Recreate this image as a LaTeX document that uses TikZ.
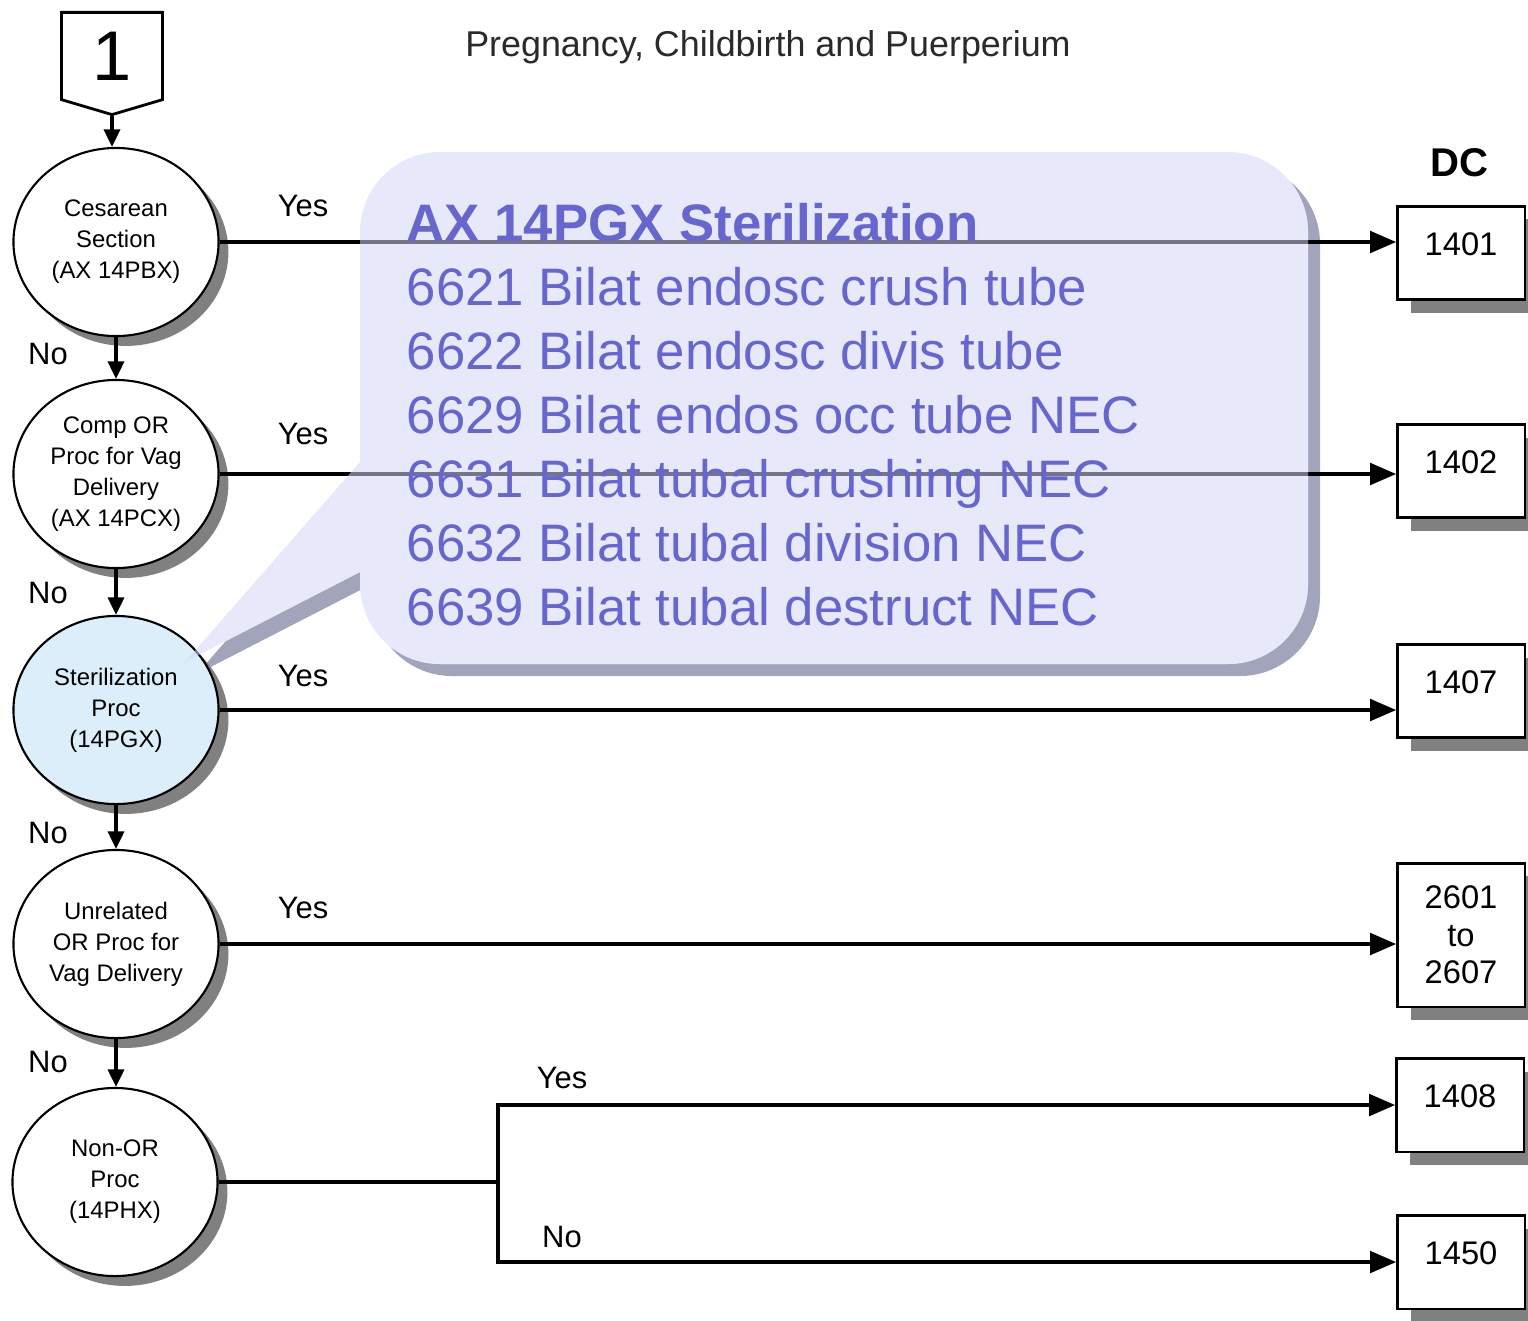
\documentclass[tikz,border=0pt]{standalone}
\usepackage{fontspec}
\setmainfont{Liberation Sans}
\usetikzlibrary{arrows.meta,positioning,shapes.geometric,shapes.symbols,shadows}
\definecolor{mdcshadow}{HTML}{808080}
\definecolor{mdcblue}{HTML}{DDEEFB}
\definecolor{mdcnote}{HTML}{6666CC}
\definecolor{mdcnotefill}{HTML}{D4D8F8}
\definecolor{mdcnoteedge}{HTML}{A2A4BC}
\definecolor{mdcgrey}{HTML}{2A2A2A}
\tikzset{
  decision/.style={ellipse, draw=black, line width=0.6pt, fill=white, minimum width=2.05cm, minimum height=1.88cm, inner sep=0pt, align=center, font=\fontsize{6.8}{8.8}\selectfont, general shadow={fill=mdcshadow, shadow xshift=2.8pt, shadow yshift=-2.8pt}},
  drgbox/.style={rectangle, draw=black, line width=0.6pt, fill=white, minimum width=1.27cm, minimum height=0.93cm, align=center, font=\fontsize{9.3}{10.7}\selectfont, general shadow={fill=mdcshadow, shadow xshift=3.7pt, shadow yshift=-3.7pt}},
  raised/.style={text depth=0.18cm},
  startbox/.style={signal, signal to=south, signal pointer angle=147, draw=black, line width=0.8pt, fill=white, minimum width=1.01cm, minimum height=0.93cm, inner sep=0pt, font=\fontsize{20}{24}\selectfont},
  flow/.style={-{Triangle[length=7.5pt,width=6pt]}, line width=1.4pt},
  flowline/.style={line width=1.4pt},
  noflow/.style={-{Triangle[length=5pt,width=4.6pt]}, line width=0.9pt},
  lbl/.style={font=\fontsize{8.8}{10}\selectfont},
  notetext/.style={text=mdcnote, align=left, inner sep=0pt, font=\fontsize{15}{18.2}\selectfont}
}
\def\notepath{(360,584) arc[start angle=180,end angle=90,radius=80] -- (1228,664) arc[start angle=90,end angle=0,radius=80] -- (1308,232) arc[start angle=0,end angle=-90,radius=80] -- (440,152) arc[start angle=-90,end angle=-180,radius=80] -- (360,462) -- (185,662) -- (360,572) -- cycle}
\begin{document}
\begin{tikzpicture}[x=0.01cm,y=-0.01cm]
  \useasboundingbox (0,0) rectangle (1528,1320);
  % callout backing
  \fill[mdcnoteedge, shift={(12,12)}] \notepath;
  \fill[white] \notepath;

  \node[font=\fontsize{10.2}{12}\selectfont, text=mdcgrey] (subtitle) at (768,47) {Pregnancy, Childbirth and Puerperium};
  \node[startbox] (start) at (112,56) {1};
  \node[font=\bfseries\fontsize{11.4}{13}\selectfont] (dc) at (1459,163) {DC};

  % decisions
  \node[decision] (cesar) at (116,242) {Cesarean\\Section\\(AX 14PBX)};
  \node[decision] (comp) at (116,474) {Comp OR\\Proc for Vag\\Delivery\\(AX 14PCX)};
  \node[decision, fill=mdcblue] (steril) at (116,710) {Sterilization\\Proc\\(14PGX)};
  \node[decision] (unrel) at (116,944) {Unrelated\\OR Proc for\\Vag Delivery};
  \node[decision] (nonor) at (115,1182) {Non-OR\\Proc\\(14PHX)};

  % DRG boxes
  \node[drgbox, raised] (drg1401) at (1461,253) {1401};
  \node[drgbox, raised] (drg1402) at (1461,471) {1402};
  \node[drgbox, raised] (drg1407) at (1461,691) {1407};
  \node[drgbox, minimum height=1.43cm] (drg2601) at (1461,935) {2601\\to\\2607};
  \node[drgbox, raised] (drg1408) at (1460,1105) {1408};
  \node[drgbox, raised] (drg1450) at (1461,1262) {1450};

  \draw[noflow] (start.south) -- (start.south |- cesar.north);
  \draw[noflow] (cesar.south) -- (comp.north);
  \draw[noflow] (comp.south) -- (steril.north);
  \draw[noflow] (steril.south) -- (unrel.north);
  \draw[noflow] (unrel.south) -- (unrel.south |- nonor.north);
  \node[lbl] (no1) at (48,354) {No};
  \node[lbl] (no2) at (48,593) {No};
  \node[lbl] (no3) at (48,833) {No};
  \node[lbl] (no4) at (48,1062) {No};

  \draw[flow] (cesar.east) -- (cesar.east -| drg1401.west);
  \draw[flow] (comp.east) -- (comp.east -| drg1402.west);
  \draw[flow] (steril.east) -- (steril.east -| drg1407.west);
  \draw[flow] (unrel.east) -- (unrel.east -| drg2601.west);
  \coordinate (fork) at (498,1182);
  \draw[flowline] (nonor.east) -- (fork);
  \draw[flow] (fork) |- (drg1408.west);
  \draw[flow] (fork) |- (drg1450.west);
  \node[lbl] (yes1) at (303,206) {Yes};
  \node[lbl] (yes2) at (303,434) {Yes};
  \node[lbl] (yes3) at (303,676) {Yes};
  \node[lbl] (yes4) at (303,908) {Yes};
  \node[lbl] (yes5) at (562,1078) {Yes};
  \node[lbl] (no5) at (562,1237) {No};

  % callout over the chart
  \fill[mdcnotefill, fill opacity=0.55] \notepath;
  \node[notetext, anchor=north west] (notes) at (406,203) {\textbf{AX 14PGX Sterilization}\\
    6621 Bilat endosc crush tube\\
    6622 Bilat endosc divis tube\\
    6629 Bilat endos occ tube NEC\\
    6631 Bilat tubal crushing NEC\\
    6632 Bilat tubal division NEC\\
    6639 Bilat tubal destruct NEC};
\end{tikzpicture}
\end{document}
